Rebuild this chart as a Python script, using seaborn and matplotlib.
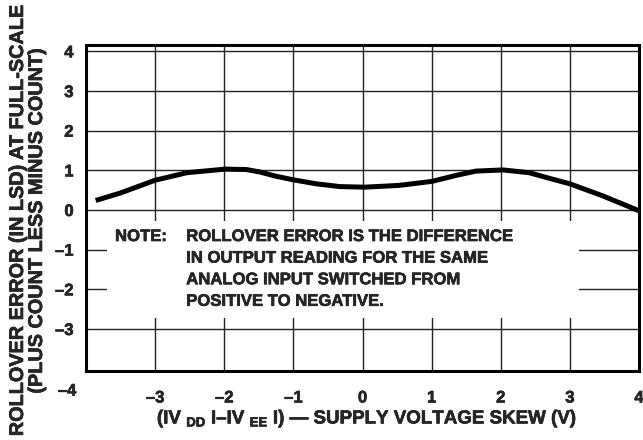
import matplotlib
matplotlib.use("Agg")
import matplotlib.pyplot as plt
import matplotlib.patheffects as pe
import seaborn as sns
import pandas as pd
from matplotlib.patches import Rectangle

# ---- data ----
skew_v = [-3.86, -3.5, -3.0, -2.54, -1.99, -1.68, -1.49, -1.25, -1.0, -0.67,
          -0.33, 0.03, 0.53, 1.0, 1.35, 1.64, 2.03, 2.41, 2.70, 3.0, 3.47, 4.0]
rollover_lsd = [0.24, 0.43, 0.75, 0.94, 1.03, 1.02, 0.96, 0.85, 0.76, 0.66,
                0.59, 0.575, 0.62, 0.72, 0.87, 0.98, 1.01, 0.94, 0.80, 0.66,
                0.36, -0.02]
x_ticks = [-3, -2, -1, 0, 1, 2, 3, 4]
x_tick_labels = ["–3", "–2", "–1", "0", "1", "2", "3", "4"]
y_ticks = [-3, -2, -1, 0, 1, 2, 3, 4]
y_tick_labels = ["–3", "–2", "–1", "0", "1", "2", "3", "4"]
corner_label = "–4"
note_head = "NOTE:"
note_lines = ["ROLLOVER ERROR IS THE DIFFERENCE",
              "IN OUTPUT READING FOR THE SAME",
              "ANALOG INPUT SWITCHED FROM",
              "POSITIVE TO NEGATIVE."]
y_label = "ROLLOVER ERROR (IN LSD) AT FULL-SCALE\n(PLUS COUNT LESS MINUS COUNT)"
x_label = r"(IV $_{DD}$ I–IV $_{EE}$ I) — SUPPLY VOLTAGE SKEW (V)"

sns.set_style("white")
plt.rcParams["font.family"] = ["Liberation Sans", "DejaVu Sans"]
plt.rcParams["font.weight"] = "bold"
plt.rcParams["mathtext.fontset"] = "custom"
plt.rcParams["mathtext.rm"] = "Liberation Sans:bold"
plt.rcParams["mathtext.it"] = "Liberation Sans:bold"
plt.rcParams["mathtext.bf"] = "Liberation Sans:bold"

heavy = [pe.withStroke(linewidth=0.4, foreground="black")]

df = pd.DataFrame({"skew": skew_v, "err": rollover_lsd})

fig = plt.figure(figsize=(6.43, 4.40), dpi=100)
ax = fig.add_axes([86/643, 1-371/440, (639-86)/643, (371-45)/440])

ax.set_axisbelow(True)
ax.grid(True, color="#222222", linewidth=1.0)
sns.lineplot(data=df, x="skew", y="err", ax=ax, color="black", linewidth=3.6,
             zorder=3, solid_joinstyle="round", solid_capstyle="butt")

ax.set_xlim(-4, 4)
ax.set_ylim(-4.06, 4.16)
ax.set_xticks(x_ticks)
ax.set_xticklabels(x_tick_labels, fontsize=12, fontweight="bold")
ax.set_yticks(y_ticks)
ax.set_yticklabels(y_tick_labels, fontsize=12, fontweight="bold")
for lab in ax.get_xticklabels() + ax.get_yticklabels():
    lab.set_path_effects(heavy)
ax.tick_params(length=0)
ax.tick_params(axis="x", pad=14)
ax.tick_params(axis="y", pad=9)
for s in ax.spines.values():
    s.set_linewidth(2.2)
    s.set_color("black")
ax.set_xlabel("")
ax.set_ylabel("")

# white panel for the note (interrupts the grid)
ax.add_patch(Rectangle((-3.70, -2.72), 3.13 + 3.70, 2.72 - 0.28,
                       facecolor="white", edgecolor="none", zorder=1))
ax.text(-3.58, -0.48, note_head, fontsize=12, fontweight="bold",
        va="top", ha="left", zorder=4, path_effects=heavy)
ax.text(-2.55, -0.48, "\n".join(note_lines), fontsize=12, fontweight="bold",
        va="top", ha="left", linespacing=1.55, zorder=4, path_effects=heavy)

fig.text(67/643, 1-391/440, corner_label, fontsize=12, fontweight="bold",
         ha="center", va="center", path_effects=heavy)
fig.text(27/643, 0.5, y_label, rotation=90, fontsize=14.3, fontweight="bold",
         ha="center", va="center", multialignment="center", linespacing=1.0,
         path_effects=heavy)
fig.text(367/643, 1-419/440, x_label, fontsize=13.5, fontweight="bold",
         ha="center", va="center", path_effects=heavy)

fig.savefig("out.png", dpi=100)
